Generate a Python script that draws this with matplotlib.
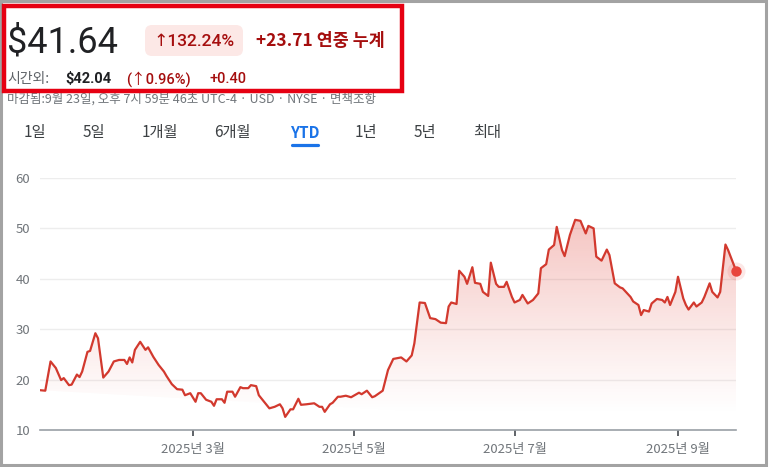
import matplotlib
matplotlib.use('Agg')
import matplotlib.pyplot as plt
import matplotlib.dates as mdates
from matplotlib.patches import FancyBboxPatch, Rectangle, PathPatch
from matplotlib.path import Path
import numpy as np
import pandas as pd

plt.rcParams['font.family'] = ['Noto Sans CJK KR', 'DejaVu Sans']

# ---- data ----
dates = [
    '01-02', '01-04', '01-06', '01-08', '01-10', '01-11', '01-13', '01-14', '01-16',
    '01-17', '01-18', '01-20', '01-21', '01-23', '01-24', '01-26', '01-28', '01-30',
    '02-01', '02-03', '02-04', '02-05', '02-06', '02-07', '02-09', '02-11', '02-12',
    '02-14', '02-16', '02-18', '02-19', '02-21', '02-23', '02-25', '02-26', '02-28',
    '03-02', '03-03', '03-04', '03-06', '03-08', '03-09', '03-10', '03-12', '03-13',
    '03-14', '03-16', '03-17', '03-19', '03-20', '03-22', '03-23', '03-25', '03-26',
    '03-28', '03-30',
    '04-01', '04-03', '04-04', '04-05', '04-07', '04-08', '04-10', '04-11', '04-13',
    '04-16', '04-18', '04-19', '04-20', '04-22', '04-23', '04-25', '04-26', '04-28', '04-30',
    '05-02', '05-03', '05-04', '05-06', '05-08', '05-09', '05-12', '05-14', '05-16',
    '05-19', '05-21', '05-23', '05-24', '05-26', '05-28', '05-30',
    '06-01', '06-03', '06-05', '06-06', '06-07', '06-09', '06-10', '06-12', '06-13',
    '06-15', '06-16', '06-18', '06-19', '06-21', '06-22', '06-24', '06-25', '06-27',
    '06-28', '06-30',
    '07-01', '07-03', '07-04', '07-06', '07-08', '07-10', '07-11', '07-13', '07-14',
    '07-16', '07-17', '07-19', '07-20', '07-22', '07-24', '07-26', '07-28', '07-29', '07-31',
    '08-01', '08-03', '08-05', '08-06', '08-08', '08-10', '08-11', '08-14', '08-15',
    '08-17', '08-18', '08-19', '08-21', '08-22', '08-24', '08-26', '08-27', '08-28',
    '08-29', '08-31',
    '09-01', '09-03', '09-04', '09-05', '09-07', '09-08', '09-10', '09-11', '09-13',
    '09-14', '09-16', '09-17', '09-19', '09-20', '09-23',
]
prices = [
    17.9, 17.8, 23.6, 22.3, 19.9, 20.3, 18.9, 19.0, 21.0,
    20.5, 21.6, 25.5, 25.7, 29.2, 28.2, 20.4, 21.6, 23.6,
    23.9, 23.9, 23.1, 24.4, 23.4, 25.9, 27.5, 25.9, 26.4,
    24.5, 22.9, 21.6, 20.7, 19.1, 18.1, 18.0, 16.9, 17.3,
    15.6, 17.3, 17.3, 16.0, 15.6, 14.8, 16.1, 16.1, 15.4,
    17.6, 17.6, 16.6, 18.5, 18.3, 18.3, 18.9, 18.7, 16.9,
    15.6, 14.3,
    14.6, 15.1, 14.3, 12.6, 14.1, 14.1, 16.2, 15.0, 15.1,
    15.3, 14.6, 14.6, 13.6, 15.1, 15.4, 16.6, 16.6, 16.8, 16.5,
    17.1, 17.4, 17.1, 17.8, 16.5, 16.7, 17.8, 21.9, 24.1,
    24.4, 23.6, 24.8, 27.2, 35.3, 35.2, 32.2,
    32.0, 31.3, 31.2, 34.5, 35.3, 35.0, 41.6, 40.4, 39.0,
    42.3, 39.2, 39.0, 37.4, 36.6, 43.2, 39.0, 38.4, 38.4,
    39.4, 36.4,
    35.3, 35.8, 36.8, 35.1, 35.8, 37.1, 42.1, 42.9, 45.8,
    46.7, 50.3, 45.7, 44.5, 48.7, 51.7, 51.5, 49.0, 50.5, 50.0,
    44.4, 43.6, 45.8, 44.7, 39.1, 38.3, 38.1, 36.4, 35.5,
    34.8, 32.8, 33.8, 33.5, 35.1, 36.0, 35.8, 35.3, 36.4,
    34.8, 37.4,
    40.4, 36.1, 34.8, 33.9, 35.3, 34.5, 35.3, 36.4, 39.1,
    37.4, 36.3, 37.4, 46.8, 45.7, 41.64,
]
y_ticks = [10, 20, 30, 40, 50, 60]
x_tick_dates = ['2025-03-01', '2025-05-01', '2025-07-01', '2025-09-01']
x_tick_labels = ['2025년 3월', '2025년 5월', '2025년 7월', '2025년 9월']
range_tabs = ['1일', '5일', '1개월', '6개월', 'YTD', '1년', '5년', '최대']

# ---- colours ----
line_red = '#d2392e'
dot_red = '#e8453c'
dark_red = '#a50e0e'
text_dark = '#202124'
text_gray = '#5f6368'
tick_gray = '#70757a'
grid_col = '#ededed'

W, H = 769, 467
fig = plt.figure(figsize=(W / 100, H / 100), dpi=100)
fig.patch.set_facecolor('white')

x = pd.to_datetime(['2025-' + d for d in dates])
xn = mdates.date2num(x)
y = np.array(prices)

ax = fig.add_axes([40 / W, (H - 430) / H, 696 / W, 252 / H])
ax.set_xlim(xn[0], xn[-1])
ax.set_ylim(10, 60)

# gradient fill under the line
verts = np.vstack([np.column_stack([xn, y]), [[xn[-1], 10], [xn[0], 10]]])
clip = PathPatch(Path(verts, closed=True), transform=ax.transData,
                 facecolor='none', edgecolor='none')
ax.add_patch(clip)
vals = np.linspace(10, 60, 300)
alpha = np.clip((vals - 13) / 40, 0, 1) ** 1.1 * 0.30
img = np.zeros((300, 1, 4))
img[:, 0, 0] = 0.87
img[:, 0, 1] = 0.22
img[:, 0, 2] = 0.18
img[:, 0, 3] = alpha
im = ax.imshow(img, origin='lower', aspect='auto',
               extent=[xn[0], xn[-1], 10, 60], zorder=1, interpolation='bilinear')
im.set_clip_path(clip)

ax.plot(xn, y, color=line_red, lw=1.6, zorder=3, solid_joinstyle='round')
ax.plot(xn[-1], y[-1], 'o', color=dot_red, ms=13, alpha=0.12, zorder=4, clip_on=False,
        markeredgewidth=0)
ax.plot(xn[-1], y[-1], 'o', color=dot_red, ms=7.5, zorder=5, clip_on=False,
        markeredgewidth=0)

ax.set_yticks(y_ticks)
ax.set_yticklabels([str(v) for v in y_ticks])
ax.set_xticks(mdates.date2num(pd.to_datetime(x_tick_dates)))
ax.set_xticklabels(x_tick_labels)
ax.grid(axis='y', color=grid_col, lw=1)
ax.set_axisbelow(True)
for s in ['top', 'right', 'left']:
    ax.spines[s].set_visible(False)
ax.spines['bottom'].set_color('#9aa0a6')
ax.spines['bottom'].set_linewidth(1.2)
ax.tick_params(axis='y', length=0, pad=7, labelsize=9.5, labelcolor=tick_gray)
ax.tick_params(axis='x', length=4, width=1.4, color='#5f6368', direction='out',
               pad=5, labelsize=9.5, labelcolor=tick_gray)
ax.patch.set_alpha(0)

# ---- header overlay in pixel coordinates ----
ov = fig.add_axes([0, 0, 1, 1], zorder=10)
ov.set_xlim(0, W)
ov.set_ylim(H, 0)
ov.axis('off')
ov.patch.set_alpha(0)

ov.text(7, 43, '$41.64', fontsize=26, color=text_dark, va='center', ha='left',
        family=['Roboto', 'DejaVu Sans'])
ov.add_patch(FancyBboxPatch((145, 25), 98, 31, boxstyle='round,pad=0,rounding_size=7',
                            facecolor='#fce8e6', edgecolor='none'))
ov.text(194, 41, '↑132.24%', fontsize=12.5, color=dark_red, va='center', ha='center',
        family=['Roboto', 'DejaVu Sans'], fontweight='medium')
ov.text(256, 41, '+23.71 연중 누계', fontsize=12.5, color=dark_red, va='center',
        ha='left', fontweight='bold')

ov.text(7, 79, '시간외:', fontsize=10, color=text_gray, va='center', ha='left')
ov.text(65, 79, '$42.04', fontsize=10.5, color=text_dark, va='center', ha='left',
        fontweight='bold', family=['Roboto', 'DejaVu Sans'])
ov.text(126, 79, '(↑0.96%)', fontsize=10.5, color=dark_red, va='center', ha='left',
        fontweight='medium', family=['Roboto', 'Noto Sans CJK KR', 'DejaVu Sans'])
ov.text(209, 79, '+0.40', fontsize=10.5, color=dark_red, va='center', ha='left',
        fontweight='medium', family=['Roboto', 'DejaVu Sans'])
ov.text(7, 99, '마감됨:9월 23일, 오후 7시 59분 46초 UTC-4 · USD · NYSE · 면책조항',
        fontsize=9, color=tick_gray, va='center', ha='left', zorder=2)

# red highlight box
ov.add_patch(Rectangle((4, 6), 398, 85, facecolor='none', edgecolor='#e60012', lw=3.2,
                       zorder=5))

# range tabs
tab_x = [35, 94, 160, 232, 305, 366, 425, 487]
for tx, lab in zip(tab_x, range_tabs):
    active = lab == 'YTD'
    ov.text(tx, 133, lab, fontsize=11, ha='center', va='center',
            color='#1a73e8' if active else '#3c4043',
            fontweight='bold' if active else 'normal')
ov.plot([292, 318], [145, 145], color='#1a73e8', lw=2.3, solid_capstyle='round')

# outer gray frame
ov.add_patch(Rectangle((1, 1), 765, 464, facecolor='none', edgecolor='#a3a3a3', lw=2.2))

fig.savefig('out.png', dpi=100, facecolor='white')
